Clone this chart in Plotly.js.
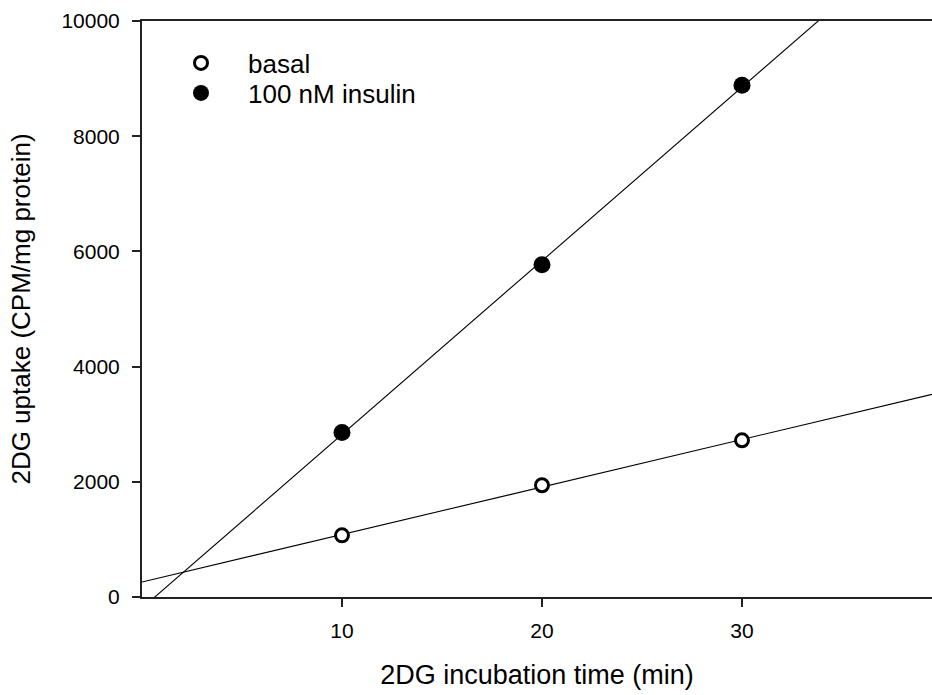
<!DOCTYPE html>
<html>
<head>
<meta charset="utf-8">
<script src="https://cdn.plot.ly/plotly-3.0.1.min.js"></script>
<style>
  html, body { margin: 0; padding: 0; background: #fff; }
  #chart { width: 932px; height: 695px; }
</style>
</head>
<body>
<div id="chart"></div>
<script>
// Data
const timeMin = [10, 20, 30];
const basal = [1070, 1940, 2720];
const insulin = [2855, 5770, 8885];
const xTicks = [10, 20, 30];
const yTicks = [0, 2000, 4000, 6000, 8000, 10000];
const seriesNames = ['basal', '100 nM insulin'];

const xRange = [0, 39.5];
const yRange = [0, 10000];

function linFit(xs, ys) {
  const n = xs.length;
  const mx = xs.reduce((a, b) => a + b, 0) / n;
  const my = ys.reduce((a, b) => a + b, 0) / n;
  let sxy = 0, sxx = 0;
  for (let i = 0; i < n; i++) { sxy += (xs[i] - mx) * (ys[i] - my); sxx += (xs[i] - mx) ** 2; }
  const slope = sxy / sxx;
  return { slope, intercept: my - slope * mx };
}
function fitLine(xs, ys) {
  const f = linFit(xs, ys);
  return { x: xRange.slice(), y: xRange.map(v => f.intercept + f.slope * v) };
}

const fb = fitLine(timeMin, basal);
const fi = fitLine(timeMin, insulin);

const traces = [
  { x: fb.x, y: fb.y, mode: 'lines', line: { color: '#000', width: 1.1 }, showlegend: false, hoverinfo: 'skip' },
  { x: fi.x, y: fi.y, mode: 'lines', line: { color: '#000', width: 1.1 }, showlegend: false, hoverinfo: 'skip' },
  { x: timeMin, y: basal, name: seriesNames[0], mode: 'markers', cliponaxis: false, legend: 'legend',
    marker: { symbol: 'circle', size: 13, color: '#fff', line: { color: '#000', width: 3 } } },
  { x: timeMin, y: insulin, name: seriesNames[1], mode: 'markers', cliponaxis: false, legend: 'legend2',
    marker: { symbol: 'circle', size: 17, color: '#000', line: { color: '#000', width: 0 } } }
];

const fontFam = 'Liberation Sans, Arial, sans-serif';

function legendAt(yc) {
  return {
    xref: 'paper', yref: 'paper',
    x: (154 - 142) / 790, y: 1 - (yc - 21) / 576, xanchor: 'left', yanchor: 'middle',
    bgcolor: 'rgba(0,0,0,0)', borderwidth: 0,
    font: { family: fontFam, size: 26, color: '#000' },
    itemwidth: 84, tracegroupgap: 0
  };
}

const layout = {
  width: 932, height: 695,
  margin: { l: 142, r: 0, t: 21, b: 98, pad: 0 },
  paper_bgcolor: '#fff', plot_bgcolor: '#fff',
  font: { family: fontFam, color: '#000', size: 21 },
  showlegend: true,
  legend: legendAt(63),
  legend2: legendAt(93),
  xaxis: {
    range: xRange, tickvals: xTicks, ticktext: xTicks.map(String),
    showgrid: false, zeroline: false,
    showline: true, linecolor: '#222', linewidth: 2, mirror: true,
    ticks: 'outside', ticklen: 8, tickwidth: 2, tickcolor: '#222',
    tickfont: { family: fontFam, size: 21, color: '#000' },
    ticklabelstandoff: 6,
    title: { text: '2DG incubation time (min)', font: { family: fontFam, size: 27, color: '#000' }, standoff: 24 },
    automargin: false, fixedrange: true
  },
  yaxis: {
    range: yRange, tickvals: yTicks, ticktext: yTicks.map(String),
    showgrid: false, zeroline: false,
    showline: true, linecolor: '#222', linewidth: 2, mirror: false,
    ticks: 'outside', ticklen: 8, tickwidth: 2, tickcolor: '#222',
    tickfont: { family: fontFam, size: 21, color: '#000' },
    ticklabelstandoff: 8,
    title: { text: '2DG uptake (CPM/mg protein)', font: { family: fontFam, size: 26, color: '#000' }, standoff: 23 },
    automargin: false, fixedrange: true
  }
};

Plotly.newPlot('chart', traces, layout, { staticPlot: true, displayModeBar: false });
</script>
</body>
</html>
